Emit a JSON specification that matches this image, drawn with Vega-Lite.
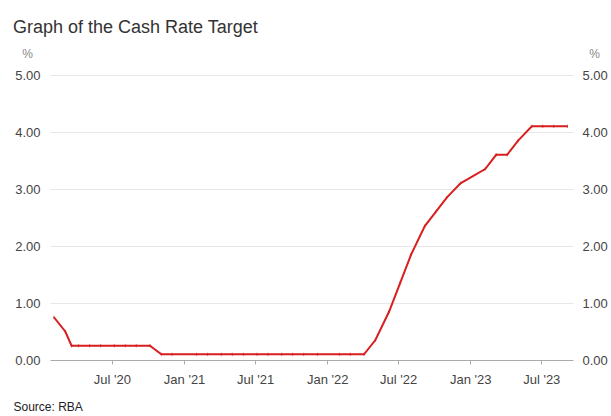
{
  "$schema": "https://vega.github.io/schema/vega-lite/v6.json",
  "width": 523,
  "height": 285,
  "autosize": {"type": "none"},
  "padding": {"left": 50, "top": 75, "right": 38, "bottom": 56},
  "background": "white",
  "config": {
    "view": {"stroke": null},
    "font": "Liberation Sans",
    "axis": {"labelFont": "Liberation Sans", "titleFont": "Liberation Sans"}
  },
  "title": {
    "text": "Graph of the Cash Rate Target",
    "anchor": "start",
    "frame": "bounds",
    "font": "Liberation Sans",
    "fontSize": 18,
    "fontWeight": "normal",
    "color": "#333333",
    "offset": 10
  },
  "data": {
    "values": [
      {"date": "2020-02-04", "rate": 0.75},
      {"date": "2020-03-04", "rate": 0.50},
      {"date": "2020-03-20", "rate": 0.25},
      {"date": "2020-04-07", "rate": 0.25},
      {"date": "2020-05-05", "rate": 0.25},
      {"date": "2020-06-02", "rate": 0.25},
      {"date": "2020-07-07", "rate": 0.25},
      {"date": "2020-08-04", "rate": 0.25},
      {"date": "2020-09-01", "rate": 0.25},
      {"date": "2020-10-06", "rate": 0.25},
      {"date": "2020-11-04", "rate": 0.10},
      {"date": "2020-12-01", "rate": 0.10},
      {"date": "2021-02-02", "rate": 0.10},
      {"date": "2021-03-02", "rate": 0.10},
      {"date": "2021-04-06", "rate": 0.10},
      {"date": "2021-05-04", "rate": 0.10},
      {"date": "2021-06-01", "rate": 0.10},
      {"date": "2021-07-06", "rate": 0.10},
      {"date": "2021-08-03", "rate": 0.10},
      {"date": "2021-09-07", "rate": 0.10},
      {"date": "2021-10-05", "rate": 0.10},
      {"date": "2021-11-02", "rate": 0.10},
      {"date": "2021-12-07", "rate": 0.10},
      {"date": "2022-02-01", "rate": 0.10},
      {"date": "2022-03-01", "rate": 0.10},
      {"date": "2022-04-05", "rate": 0.10},
      {"date": "2022-05-04", "rate": 0.35},
      {"date": "2022-06-08", "rate": 0.85},
      {"date": "2022-07-06", "rate": 1.35},
      {"date": "2022-08-03", "rate": 1.85},
      {"date": "2022-09-07", "rate": 2.35},
      {"date": "2022-10-05", "rate": 2.60},
      {"date": "2022-11-02", "rate": 2.85},
      {"date": "2022-12-07", "rate": 3.10},
      {"date": "2023-02-08", "rate": 3.35},
      {"date": "2023-03-08", "rate": 3.60},
      {"date": "2023-04-05", "rate": 3.60},
      {"date": "2023-05-03", "rate": 3.85},
      {"date": "2023-06-07", "rate": 4.10},
      {"date": "2023-07-05", "rate": 4.10},
      {"date": "2023-08-02", "rate": 4.10},
      {"date": "2023-09-06", "rate": 4.10}
    ]
  },
  "encoding": {
    "x": {
      "field": "date",
      "type": "temporal",
      "scale": {
        "type": "utc",
        "domain": [
          {"year": 2020, "month": 1, "date": 25, "utc": true},
          {"year": 2023, "month": 9, "date": 20, "utc": true}
        ]
      },
      "axis": {
        "values": [
          {"year": 2020, "month": 7, "date": 1, "utc": true},
          {"year": 2021, "month": 1, "date": 1, "utc": true},
          {"year": 2021, "month": 7, "date": 1, "utc": true},
          {"year": 2022, "month": 1, "date": 1, "utc": true},
          {"year": 2022, "month": 7, "date": 1, "utc": true},
          {"year": 2023, "month": 1, "date": 1, "utc": true},
          {"year": 2023, "month": 7, "date": 1, "utc": true}
        ],
        "labelExpr": "utcFormat(datum.value, \"%b '%y\")",
        "grid": false,
        "domainColor": "#aaaaaa",
        "domainWidth": 1,
        "tickColor": "#aaaaaa",
        "tickSize": 4,
        "labelPadding": 19,
        "labelBaseline": "alphabetic",
        "labelFontSize": 13,
        "labelColor": "#444444",
        "title": "Source: RBA",
        "titleX": -37,
        "titleY": 50,
        "titleAlign": "left",
        "titleAnchor": "start",
        "titleBaseline": "alphabetic",
        "titleFontSize": 12,
        "titleFontWeight": "normal",
        "titleColor": "#222222"
      }
    },
    "y": {
      "field": "rate",
      "type": "quantitative",
      "scale": {"domain": [0, 5], "nice": false}
    }
  },
  "layer": [
    {
      "mark": {"type": "line", "color": "#d81e1e", "strokeWidth": 2},
      "encoding": {
        "y": {
          "field": "rate",
          "type": "quantitative",
          "axis": {
            "orient": "left",
            "values": [0, 1, 2, 3, 4, 5],
            "format": ".2f",
            "domain": false,
            "ticks": false,
            "tickSize": 0,
            "labelPadding": 10,
            "labelFontSize": 13,
            "labelColor": "#444444",
            "grid": true,
            "gridColor": {"condition": {"test": "datum.value === 0", "value": "transparent"}, "value": "#e8e8e8"},
            "title": "%",
            "titleAngle": 0,
            "titleX": -23,
            "titleY": -18,
            "titleAlign": "center",
            "titleBaseline": "alphabetic",
            "titleFontSize": 12,
            "titleFontWeight": "normal",
            "titleColor": "#888888"
          }
        }
      }
    },
    {
      "mark": {"type": "point", "shape": "M0,-1L0,1", "size": 9, "filled": false, "strokeWidth": 1, "color": "#d81e1e", "opacity": 0.8},
      "encoding": {
        "y": {
          "field": "rate",
          "type": "quantitative",
          "axis": {
            "orient": "right",
            "values": [0, 1, 2, 3, 4, 5],
            "format": ".2f",
            "domain": false,
            "ticks": false,
            "tickSize": 0,
            "labelPadding": 9,
            "labelFontSize": 13,
            "labelColor": "#444444",
            "grid": false,
            "title": "%",
            "titleAngle": 0,
            "titleX": 21,
            "titleY": -18,
            "titleAlign": "center",
            "titleBaseline": "alphabetic",
            "titleFontSize": 12,
            "titleFontWeight": "normal",
            "titleColor": "#888888"
          }
        }
      }
    }
  ],
  "resolve": {"axis": {"y": "independent"}}
}
